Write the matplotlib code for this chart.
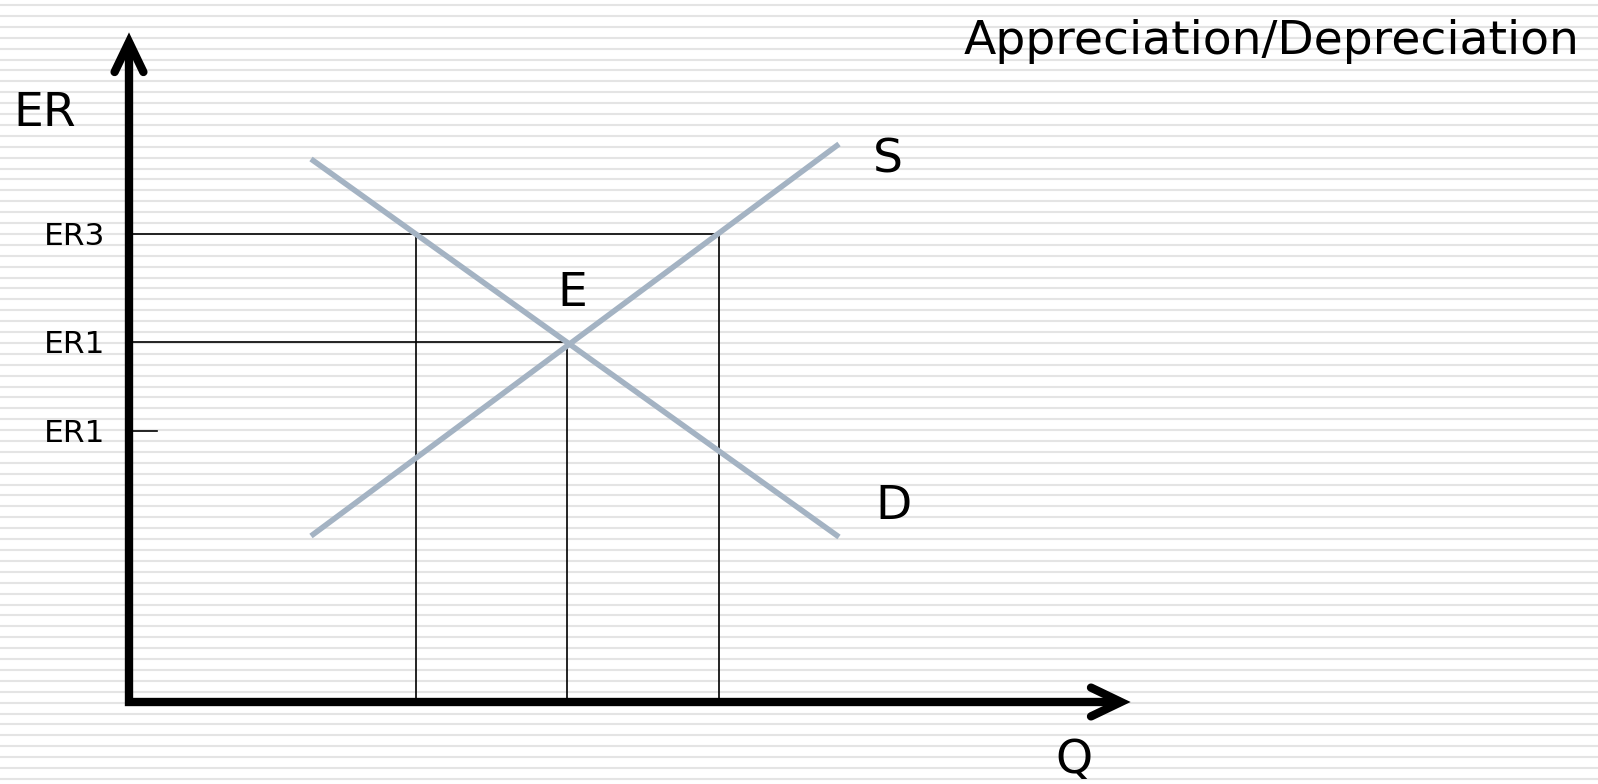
import numpy as np
import matplotlib
matplotlib.use("Agg")
import matplotlib.pyplot as plt
from matplotlib.lines import Line2D

# quantities on the Q axis (1 unit = 40 px)
q_ticks = [7.175, 10.95, 14.75]
# exchange rates on the ER axis
er_values = [11.7, 9.0, 6.775]
er_labels = ["ER3", "ER1", "ER1"]

supply_q = [4.55, 17.75]
supply_er = [4.15, 13.95]
demand_q = [4.55, 17.75]
demand_er = [13.575, 4.125]

x_max = 24.8
y_max = 16.5

W, H, DPI = 1598, 784, 100
S = 40.0  # px per unit
ox, oy = 129, 702  # origin in pixels

fig = plt.figure(figsize=(W / DPI, H / DPI), dpi=DPI)
fig.patch.set_facecolor("white")

# striped background
for yy in np.arange(5, H, 10.9):
    fig.add_artist(Line2D([0, 1], [1 - yy / H, 1 - yy / H], transform=fig.transFigure,
                          color="#e4e4e4", lw=1.5, zorder=0))

ax = fig.add_axes([0, 0, 1, 1])
ax.set_xlim(-ox / S, (W - ox) / S)
ax.set_ylim(-(H - oy) / S, oy / S)
ax.axis("off")
ax.patch.set_alpha(0)

# guide lines
ax.plot([0, q_ticks[2]], [er_values[0]] * 2, color="black", lw=1.2)
ax.plot([0, q_ticks[1]], [er_values[1]] * 2, color="black", lw=1.2)
ax.plot([0, 0.7], [er_values[2]] * 2, color="black", lw=1.2)
ax.plot([q_ticks[0]] * 2, [0, er_values[0]], color="black", lw=1.2)
ax.plot([q_ticks[2]] * 2, [0, er_values[0]], color="black", lw=1.2)
ax.plot([q_ticks[1]] * 2, [0, er_values[1]], color="black", lw=1.2)

# supply & demand
ax.plot(supply_q, supply_er, color="#a4b3c3", lw=4.0, solid_capstyle="butt", zorder=3)
ax.plot(demand_q, demand_er, color="#a4b3c3", lw=4.0, solid_capstyle="butt", zorder=3)

# axes with arrows
ax.plot([0, 0, x_max], [y_max, 0, 0], color="black", lw=6.0,
        solid_joinstyle="miter", solid_capstyle="butt", zorder=4)
ax.plot([-0.36, 0, 0.36], [y_max - 0.75, y_max, y_max - 0.75], color="black", lw=6.0,
        solid_capstyle="round", solid_joinstyle="miter", zorder=4)
ax.plot([x_max - 0.75, x_max, x_max - 0.75], [0.36, 0, -0.36], color="black", lw=6.0,
        solid_capstyle="round", solid_joinstyle="miter", zorder=4)

big = 34
small = 22.5
for v, lab in zip(er_values, er_labels):
    ax.text(-0.6, v - 0.275, lab, fontsize=small, ha="right", va="baseline")

ax.text(-2.9, 14.4, "ER", fontsize=big, ha="left", va="baseline")
ax.text(18.6, 13.25, "S", fontsize=big, ha="left", va="baseline")
ax.text(18.65, 4.575, "D", fontsize=big, ha="left", va="baseline")
ax.text(10.7, 9.9, "E", fontsize=big, ha="left", va="baseline")
ax.text(23.625, -1.775, "Q", fontsize=big, ha="center", va="baseline")
fig.text(1580 / W, 1 - 54 / H, "Appreciation/Depreciation", fontsize=big,
         ha="right", va="baseline")

fig.savefig("out.png", dpi=DPI)
